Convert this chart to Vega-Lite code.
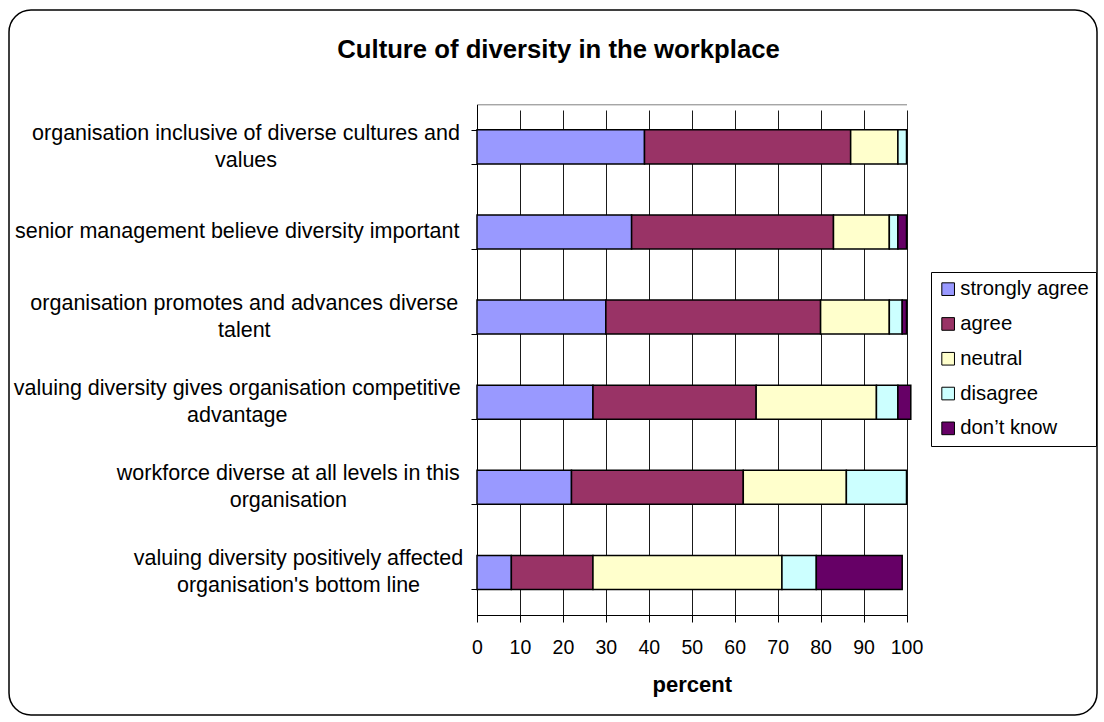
{
  "$schema": "https://vega.github.io/schema/vega-lite/v6.json",
  "width": 1088,
  "height": 705,
  "autosize": "none",
  "padding": {"left": 9, "top": 10, "right": 7, "bottom": 7},
  "background": "white",
  "data": {
    "values": [
      {"question": "organisation inclusive of diverse cultures and values", "response": "strongly agree", "rank": 1, "percent": 39},
      {"question": "organisation inclusive of diverse cultures and values", "response": "agree", "rank": 2, "percent": 48},
      {"question": "organisation inclusive of diverse cultures and values", "response": "neutral", "rank": 3, "percent": 11},
      {"question": "organisation inclusive of diverse cultures and values", "response": "disagree", "rank": 4, "percent": 2},
      {"question": "senior management believe diversity important", "response": "strongly agree", "rank": 1, "percent": 36},
      {"question": "senior management believe diversity important", "response": "agree", "rank": 2, "percent": 47},
      {"question": "senior management believe diversity important", "response": "neutral", "rank": 3, "percent": 13},
      {"question": "senior management believe diversity important", "response": "disagree", "rank": 4, "percent": 2},
      {"question": "senior management believe diversity important", "response": "don’t know", "rank": 5, "percent": 2},
      {"question": "organisation promotes and advances diverse talent", "response": "strongly agree", "rank": 1, "percent": 30},
      {"question": "organisation promotes and advances diverse talent", "response": "agree", "rank": 2, "percent": 50},
      {"question": "organisation promotes and advances diverse talent", "response": "neutral", "rank": 3, "percent": 16},
      {"question": "organisation promotes and advances diverse talent", "response": "disagree", "rank": 4, "percent": 3},
      {"question": "organisation promotes and advances diverse talent", "response": "don’t know", "rank": 5, "percent": 1},
      {"question": "valuing diversity gives organisation competitive advantage", "response": "strongly agree", "rank": 1, "percent": 27},
      {"question": "valuing diversity gives organisation competitive advantage", "response": "agree", "rank": 2, "percent": 38},
      {"question": "valuing diversity gives organisation competitive advantage", "response": "neutral", "rank": 3, "percent": 28},
      {"question": "valuing diversity gives organisation competitive advantage", "response": "disagree", "rank": 4, "percent": 5},
      {"question": "valuing diversity gives organisation competitive advantage", "response": "don’t know", "rank": 5, "percent": 3},
      {"question": "workforce diverse at all levels in this organisation", "response": "strongly agree", "rank": 1, "percent": 22},
      {"question": "workforce diverse at all levels in this organisation", "response": "agree", "rank": 2, "percent": 40},
      {"question": "workforce diverse at all levels in this organisation", "response": "neutral", "rank": 3, "percent": 24},
      {"question": "workforce diverse at all levels in this organisation", "response": "disagree", "rank": 4, "percent": 14},
      {"question": "valuing diversity positively affected organisation's bottom line", "response": "strongly agree", "rank": 1, "percent": 8},
      {"question": "valuing diversity positively affected organisation's bottom line", "response": "agree", "rank": 2, "percent": 19},
      {"question": "valuing diversity positively affected organisation's bottom line", "response": "neutral", "rank": 3, "percent": 44},
      {"question": "valuing diversity positively affected organisation's bottom line", "response": "disagree", "rank": 4, "percent": 8},
      {"question": "valuing diversity positively affected organisation's bottom line", "response": "don’t know", "rank": 5, "percent": 20}
    ]
  },
  "encoding": {
    "y": {
      "field": "question",
      "type": "nominal",
      "sort": null,
      "scale": {"range": [94.3, 605], "paddingInner": 0.6, "paddingOuter": 0.3},
      "axis": {
        "title": null,
        "offset": -468,
        "domainColor": "black",
        "domainWidth": 1,
        "tickColor": "black",
        "tickSize": 6,
        "tickBand": "extent",
        "labelFont": "Liberation Sans",
        "labelFontSize": 21.5,
        "labelColor": "black",
        "labelLimit": 0,
        "labelAlign": "center",
        "labelBaseline": "middle",
        "labelLineHeight": 27,
        "labelOffset": {
          "condition": {"test": "datum.value == 'senior management believe diversity important'", "value": 0},
          "value": -13.5
        },
        "labelPadding": {
          "condition": [
            {"test": "datum.value == 'organisation inclusive of diverse cultures and values'", "value": 225.5},
            {"test": "datum.value == 'senior management believe diversity important'", "value": 234.3},
            {"test": "datum.value == 'organisation promotes and advances diverse talent'", "value": 227.2},
            {"test": "datum.value == 'valuing diversity gives organisation competitive advantage'", "value": 234.3},
            {"test": "datum.value == 'workforce diverse at all levels in this organisation'", "value": 183.2}
          ],
          "value": 173
        },
        "labelExpr": "datum.value == 'organisation inclusive of diverse cultures and values' ? ['organisation inclusive of diverse cultures and', 'values'] : datum.value == 'organisation promotes and advances diverse talent' ? ['organisation promotes and advances diverse', 'talent'] : datum.value == 'valuing diversity gives organisation competitive advantage' ? ['valuing diversity gives organisation competitive', 'advantage'] : datum.value == 'workforce diverse at all levels in this organisation' ? ['workforce diverse at all levels in this', 'organisation'] : datum.value == \"valuing diversity positively affected organisation's bottom line\" ? ['valuing diversity positively affected', \"organisation's bottom line\"] : datum.value"
      }
    },
    "color": {
      "field": "response",
      "type": "nominal",
      "scale": {
        "domain": ["strongly agree", "agree", "neutral", "disagree", "don’t know"],
        "range": ["#9999FF", "#993366", "#FFFFCC", "#CCFFFF", "#660066"]
      },
      "legend": {
        "title": null,
        "orient": "none",
        "legendX": 922,
        "legendY": 262,
        "strokeColor": "black",
        "fillColor": "white",
        "padding": 7,
        "symbolType": "square",
        "symbolSize": 160,
        "symbolStrokeColor": "black",
        "symbolStrokeWidth": 1,
        "symbolOpacity": 1,
        "labelFont": "Liberation Sans",
        "labelFontSize": 20.3,
        "labelColor": "black",
        "labelOffset": 2,
        "rowPadding": 13.8
      }
    },
    "order": {"field": "rank", "type": "quantitative"}
  },
  "layer": [
    {
      "mark": {"type": "bar", "stroke": "black", "strokeWidth": 1.5},
      "encoding": {
        "x": {
          "field": "percent",
          "type": "quantitative",
          "stack": "zero",
          "scale": {"domain": [0, 100], "nice": false, "range": [468, 897.5]},
          "axis": {
            "title": "percent",
            "orient": "bottom",
            "offset": -100,
            "values": [0, 10, 20, 30, 40, 50, 60, 70, 80, 90, 100],
            "grid": true,
            "gridColor": "#1a1a1a",
            "gridWidth": 1,
            "domainColor": "black",
            "tickColor": "black",
            "tickSize": 7,
            "labelFont": "Liberation Sans",
            "labelFontSize": 19.5,
            "labelColor": "black",
            "labelPadding": 16,
            "labelFlush": false,
            "titleFont": "Liberation Sans",
            "titleFontSize": 22,
            "titleFontWeight": "bold",
            "titleColor": "black",
            "titlePadding": 18
          }
        }
      }
    },
    {
      "mark": {"type": "bar", "opacity": 0},
      "encoding": {
        "x": {
          "field": "percent",
          "type": "quantitative",
          "stack": "zero",
          "axis": {
            "title": "Culture of diversity in the workplace",
            "titleFont": "Liberation Sans",
            "titleFontSize": 25.7,
            "titleFontWeight": "bold",
            "titleColor": "black",
            "titleAlign": "center",
            "titleBaseline": "alphabetic",
            "titleAnchor": "start",
            "titleX": 549,
            "titleY": -47.3,
            "orient": "top",
            "offset": -94.3,
            "grid": false,
            "ticks": false,
            "labels": false,
            "domain": true,
            "domainColor": "#808080",
            "domainWidth": 1
          }
        }
      }
    }
  ],
  "resolve": {"axis": {"x": "independent"}},
  "config": {
    "font": "Liberation Sans",
    "view": {"stroke": "black", "strokeWidth": 1.5, "cornerRadius": 22, "fill": "white"}
  }
}
